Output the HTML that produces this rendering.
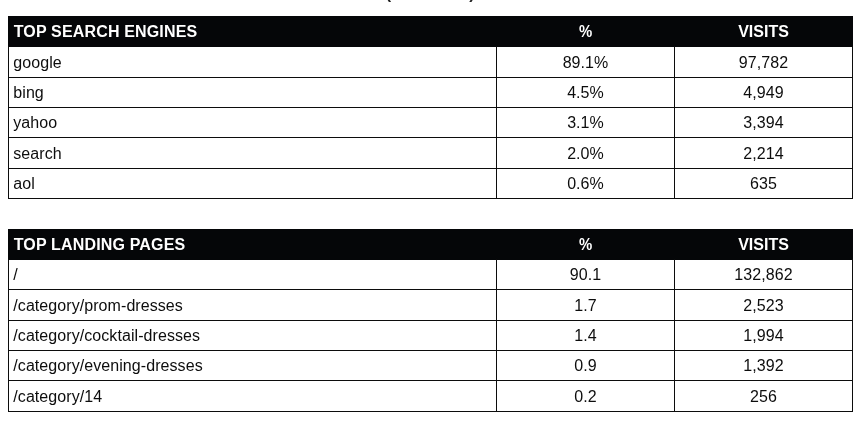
<!DOCTYPE html>
<html><head><meta charset="utf-8"><title>Top Search Engines</title>
<style>
html,body{margin:0;padding:0;background:#fff;}
body{width:868px;height:422px;position:relative;overflow:hidden;font-family:"Liberation Sans",Arial,sans-serif;color:#222;}
.cap{position:absolute;left:8px;width:845px;text-align:center;top:-15px;font-size:16px;line-height:18px;color:#222;white-space:pre;font-weight:bold;letter-spacing:0.62px;}
.hd{position:absolute;left:8px;width:845px;background:#050608;}
.hl{position:absolute;left:8px;width:845px;height:1px;background:#0c0c0c;}
.vl{position:absolute;width:1px;background:#0c0c0c;}
.c{position:absolute;font-size:16px;line-height:20px;height:20px;text-align:center;white-space:nowrap;color:#0d0d0d;letter-spacing:0.07px;}
.c.l{text-align:left;}
.c.h{color:#fff;font-weight:bold;letter-spacing:0.16px;}
.c.h.m{letter-spacing:0;}
.pc{display:inline-block;transform:translateX(0.4px) scaleX(0.93);transform-origin:50% 50%;}
</style></head><body>
<div class="cap">(this week)</div>
<div class="tbl t1">
<div class="hd" style="top:16px;height:31px"></div>
<div class="hl" style="top:77px"></div>
<div class="hl" style="top:107px"></div>
<div class="hl" style="top:137px"></div>
<div class="hl" style="top:168px"></div>
<div class="hl" style="top:198px"></div>
<div class="vl" style="left:8px;top:46px;height:153px"></div>
<div class="vl" style="left:496px;top:46px;height:153px"></div>
<div class="vl" style="left:674px;top:46px;height:153px"></div>
<div class="vl" style="left:852px;top:46px;height:153px"></div>
<div class="c h l" style="left:13.7px;top:22px">TOP SEARCH ENGINES</div>
<div class="c h m" style="left:497px;width:177px;top:22px"><span class="pc">%</span></div>
<div class="c h m" style="left:675px;width:177px;top:22px">VISITS</div>
<div class="c l" style="left:13.3px;top:53px">google</div>
<div class="c m" style="left:497px;width:177px;top:53px">89.1%</div>
<div class="c m" style="left:675px;width:177px;top:53px">97,782</div>
<div class="c l" style="left:13.3px;top:83px">bing</div>
<div class="c m" style="left:497px;width:177px;top:83px">4.5%</div>
<div class="c m" style="left:675px;width:177px;top:83px">4,949</div>
<div class="c l" style="left:13.3px;top:113px">yahoo</div>
<div class="c m" style="left:497px;width:177px;top:113px">3.1%</div>
<div class="c m" style="left:675px;width:177px;top:113px">3,394</div>
<div class="c l" style="left:13.3px;top:144px">search</div>
<div class="c m" style="left:497px;width:177px;top:144px">2.0%</div>
<div class="c m" style="left:675px;width:177px;top:144px">2,214</div>
<div class="c l" style="left:13.3px;top:174px">aol</div>
<div class="c m" style="left:497px;width:177px;top:174px">0.6%</div>
<div class="c m" style="left:675px;width:177px;top:174px">635</div>
</div>
<div class="tbl t2">
<div class="hd" style="top:229px;height:31px"></div>
<div class="hl" style="top:289px"></div>
<div class="hl" style="top:320px"></div>
<div class="hl" style="top:350px"></div>
<div class="hl" style="top:380px"></div>
<div class="hl" style="top:411px"></div>
<div class="vl" style="left:8px;top:259px;height:153px"></div>
<div class="vl" style="left:496px;top:259px;height:153px"></div>
<div class="vl" style="left:674px;top:259px;height:153px"></div>
<div class="vl" style="left:852px;top:259px;height:153px"></div>
<div class="c h l" style="left:13.7px;top:235px">TOP LANDING PAGES</div>
<div class="c h m" style="left:497px;width:177px;top:235px"><span class="pc">%</span></div>
<div class="c h m" style="left:675px;width:177px;top:235px">VISITS</div>
<div class="c l" style="left:13.3px;top:265px">/</div>
<div class="c m" style="left:497px;width:177px;top:265px">90.1</div>
<div class="c m" style="left:675px;width:177px;top:265px">132,862</div>
<div class="c l" style="left:13.3px;top:296px">/category/prom-dresses</div>
<div class="c m" style="left:497px;width:177px;top:296px">1.7</div>
<div class="c m" style="left:675px;width:177px;top:296px">2,523</div>
<div class="c l" style="left:13.3px;top:326px">/category/cocktail-dresses</div>
<div class="c m" style="left:497px;width:177px;top:326px">1.4</div>
<div class="c m" style="left:675px;width:177px;top:326px">1,994</div>
<div class="c l" style="left:13.3px;top:356px">/category/evening-dresses</div>
<div class="c m" style="left:497px;width:177px;top:356px">0.9</div>
<div class="c m" style="left:675px;width:177px;top:356px">1,392</div>
<div class="c l" style="left:13.3px;top:387px">/category/14</div>
<div class="c m" style="left:497px;width:177px;top:387px">0.2</div>
<div class="c m" style="left:675px;width:177px;top:387px">256</div>
</div>
</body></html>
